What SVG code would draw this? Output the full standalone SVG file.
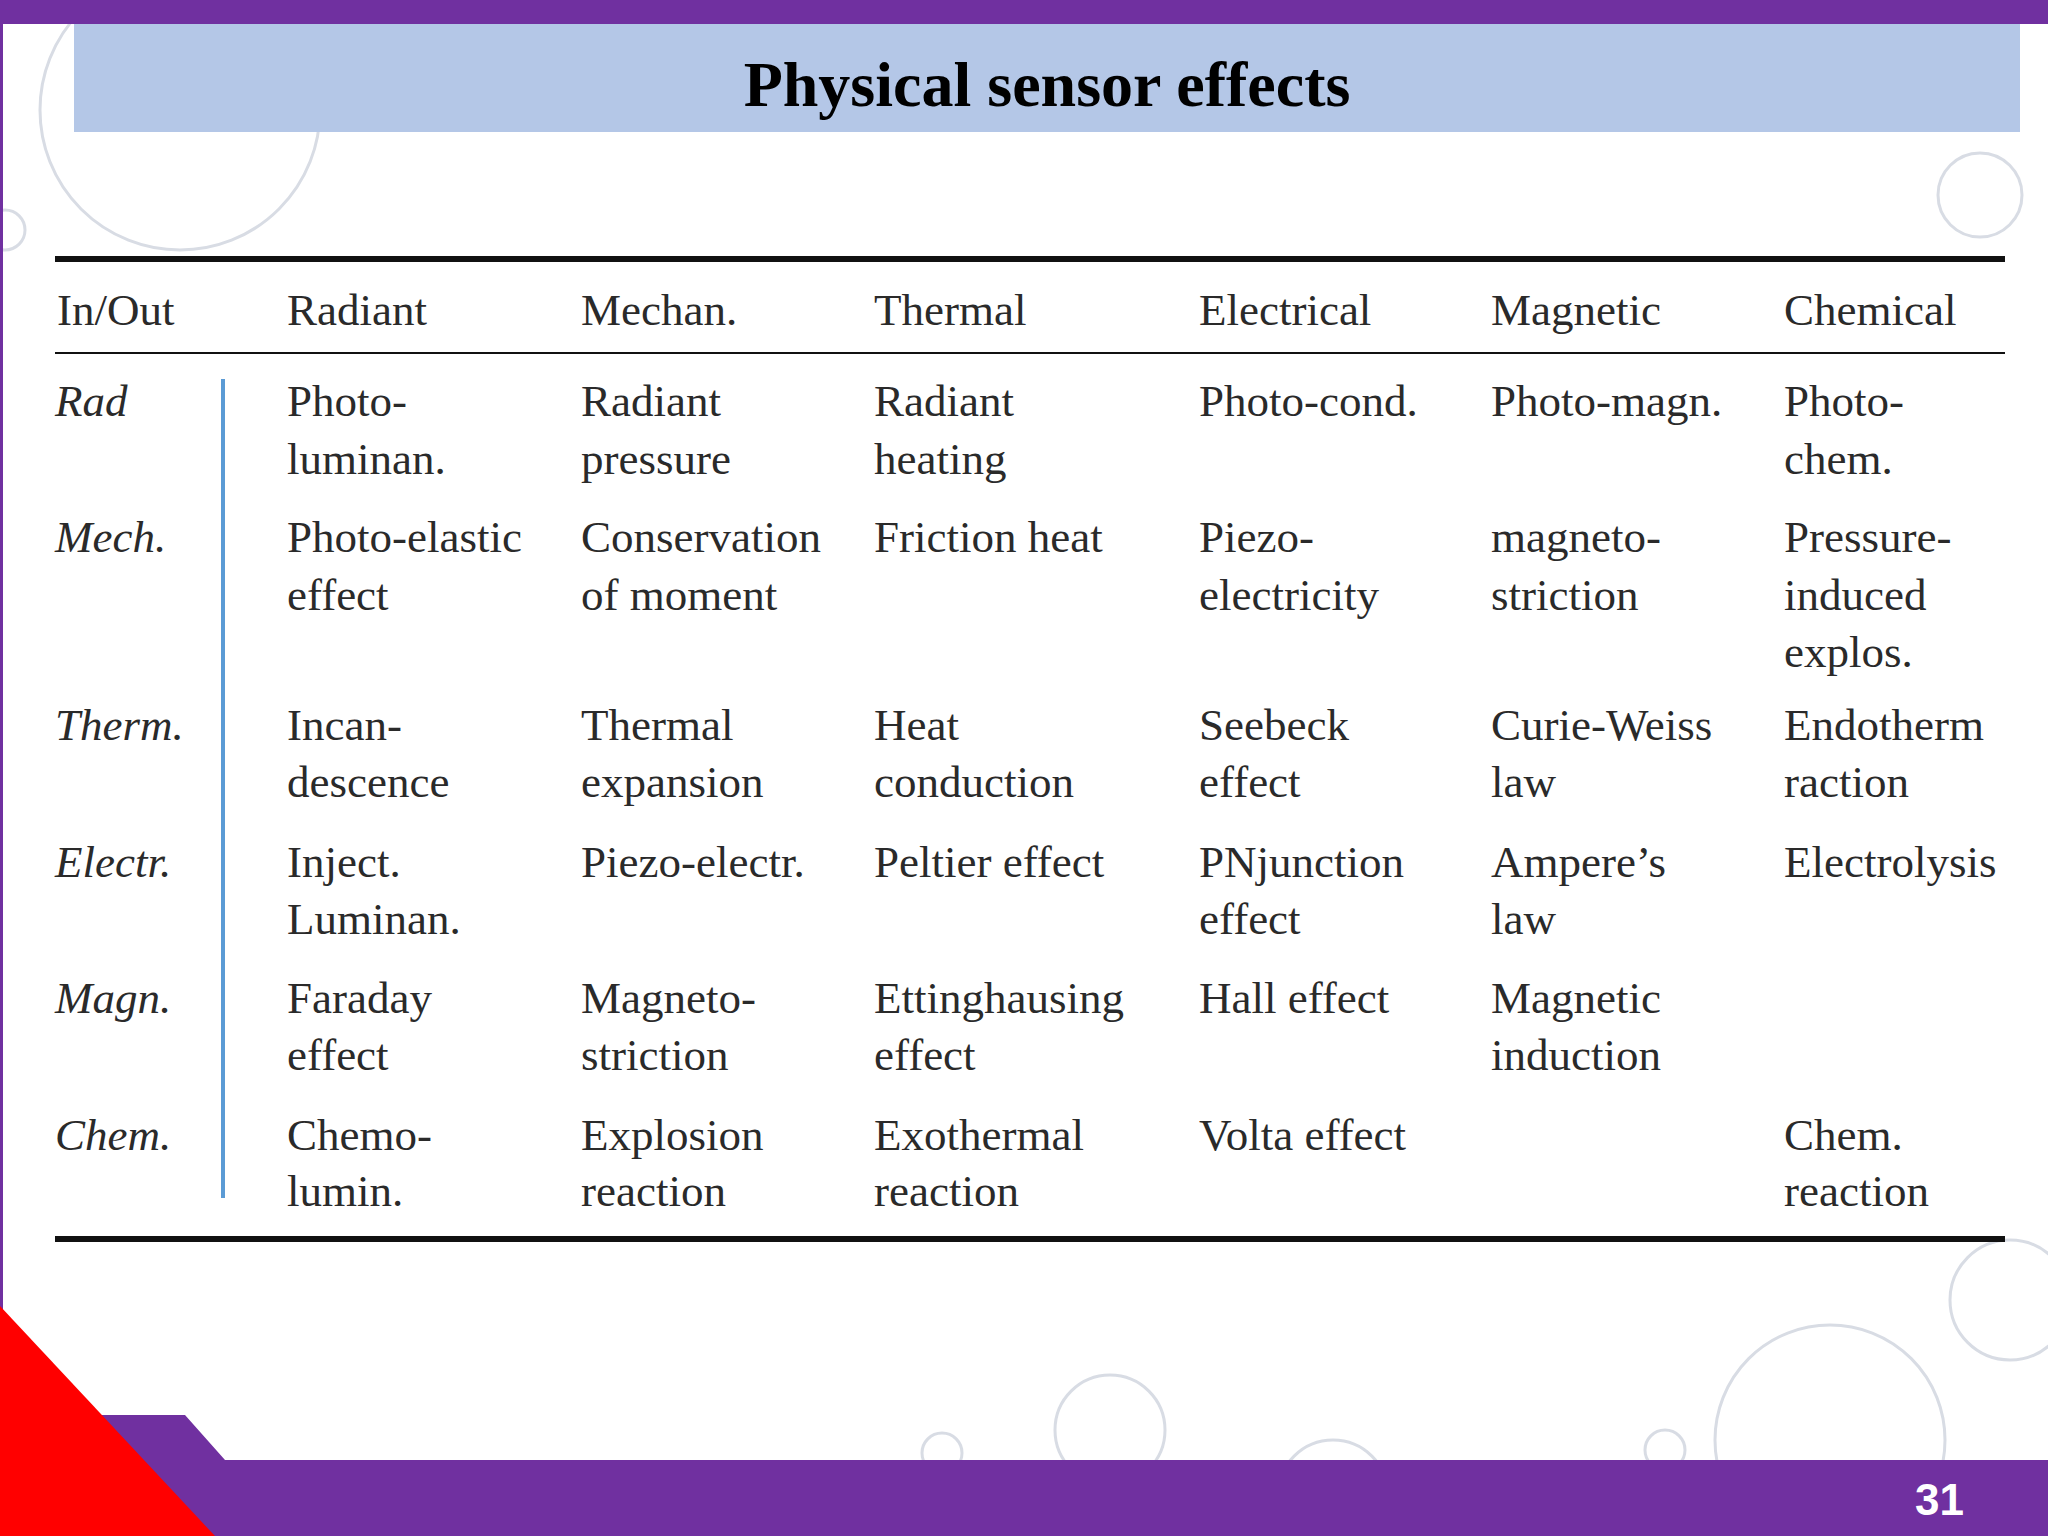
<svg xmlns="http://www.w3.org/2000/svg" width="2048" height="1536" viewBox="0 0 2048 1536">
<style>
.t{font-family:"Liberation Serif",serif;font-size:45px;fill:#2a2a2a}
.i{font-style:italic}
.b{fill:none;stroke:#d8dce4;stroke-width:3}
</style>
<rect width="2048" height="1536" fill="#fff"/>
<g id="decor">
<circle cx="1980" cy="195" r="42" class="b"/>
<circle cx="1110" cy="1430" r="55" class="b"/>
<circle cx="942" cy="1453" r="20" class="b"/>
<circle cx="1665" cy="1450" r="20" class="b"/>
<circle cx="1333" cy="1495" r="55" class="b"/>
<circle cx="1615" cy="1505" r="10" class="b"/>
<circle cx="2010" cy="1300" r="60" class="b"/>
<circle cx="1830" cy="1440" r="115" class="b"/>
<circle cx="180" cy="110" r="140" class="b"/>
<circle cx="5" cy="230" r="20" class="b"/>
</g>
<rect x="0" y="0" width="2048" height="24" fill="#7030a0"/>
<rect x="0" y="24" width="3" height="1440" fill="#7030a0"/>
<g id="title">
<rect x="74" y="24" width="1946" height="108" fill="#b4c7e7"/>
<text x="1047" y="106" text-anchor="middle" font-family="Liberation Serif,serif" font-weight="bold" font-size="64" fill="#000">Physical sensor effects</text>
</g>
<g id="footer">
<polygon points="100,1415 185,1415 225,1460 2048,1460 2048,1536 100,1536" fill="#7030a0"/>
<polygon points="0,1306 215,1536 0,1536" fill="#ff0000"/>
<text x="1915" y="1515" font-family="Liberation Sans,sans-serif" font-weight="bold" font-size="44" fill="#fff">31</text>
</g>
<g id="rules" stroke="#111">
<line x1="55" y1="259" x2="2005" y2="259" stroke-width="6"/>
<line x1="55" y1="353" x2="2005" y2="353" stroke-width="2"/>
<line x1="55" y1="1239" x2="2005" y2="1239" stroke-width="6"/>
<line x1="223" y1="379" x2="223" y2="1198" stroke="#5b9bd5" stroke-width="4"/>
</g>
<g id="header" class="t">
<text x="57" y="325">In/Out</text><text x="287" y="325">Radiant</text><text x="581" y="325">Mechan.</text><text x="874" y="325">Thermal</text><text x="1199" y="325">Electrical</text><text x="1491" y="325">Magnetic</text><text x="1784" y="325">Chemical</text>
</g>
<g id="rowlabels" class="t i">
<text x="55" y="416">Rad</text><text x="55" y="552">Mech.</text><text x="55" y="740">Therm.</text><text x="55" y="877">Electr.</text><text x="55" y="1013">Magn.</text><text x="55" y="1150">Chem.</text>
</g>
<g id="cells" class="t">
<text x="287" y="416">Photo-</text><text x="287" y="474">luminan.</text>
<text x="581" y="416">Radiant</text><text x="581" y="474">pressure</text>
<text x="874" y="416">Radiant</text><text x="874" y="474">heating</text>
<text x="1199" y="416">Photo-cond.</text>
<text x="1491" y="416">Photo-magn.</text>
<text x="1784" y="416">Photo-</text><text x="1784" y="474">chem.</text>

<text x="287" y="552">Photo-elastic</text><text x="287" y="610">effect</text>
<text x="581" y="552">Conservation</text><text x="581" y="610">of moment</text>
<text x="874" y="552">Friction heat</text>
<text x="1199" y="552">Piezo-</text><text x="1199" y="610">electricity</text>
<text x="1491" y="552">magneto-</text><text x="1491" y="610">striction</text>
<text x="1784" y="552">Pressure-</text><text x="1784" y="610">induced</text><text x="1784" y="667">explos.</text>

<text x="287" y="740">Incan-</text><text x="287" y="797">descence</text>
<text x="581" y="740">Thermal</text><text x="581" y="797">expansion</text>
<text x="874" y="740">Heat</text><text x="874" y="797">conduction</text>
<text x="1199" y="740">Seebeck</text><text x="1199" y="797">effect</text>
<text x="1491" y="740">Curie-Weiss</text><text x="1491" y="797">law</text>
<text x="1784" y="740">Endotherm</text><text x="1784" y="797">raction</text>

<text x="287" y="877">Inject.</text><text x="287" y="934">Luminan.</text>
<text x="581" y="877">Piezo-electr.</text>
<text x="874" y="877">Peltier effect</text>
<text x="1199" y="877">PNjunction</text><text x="1199" y="934">effect</text>
<text x="1491" y="877">Ampere’s</text><text x="1491" y="934">law</text>
<text x="1784" y="877">Electrolysis</text>

<text x="287" y="1013">Faraday</text><text x="287" y="1070">effect</text>
<text x="581" y="1013">Magneto-</text><text x="581" y="1070">striction</text>
<text x="874" y="1013">Ettinghausing</text><text x="874" y="1070">effect</text>
<text x="1199" y="1013">Hall effect</text>
<text x="1491" y="1013">Magnetic</text><text x="1491" y="1070">induction</text>

<text x="287" y="1150">Chemo-</text><text x="287" y="1206">lumin.</text>
<text x="581" y="1150">Explosion</text><text x="581" y="1206">reaction</text>
<text x="874" y="1150">Exothermal</text><text x="874" y="1206">reaction</text>
<text x="1199" y="1150">Volta effect</text>
<text x="1784" y="1150">Chem.</text><text x="1784" y="1206">reaction</text>
</g>
</svg>
